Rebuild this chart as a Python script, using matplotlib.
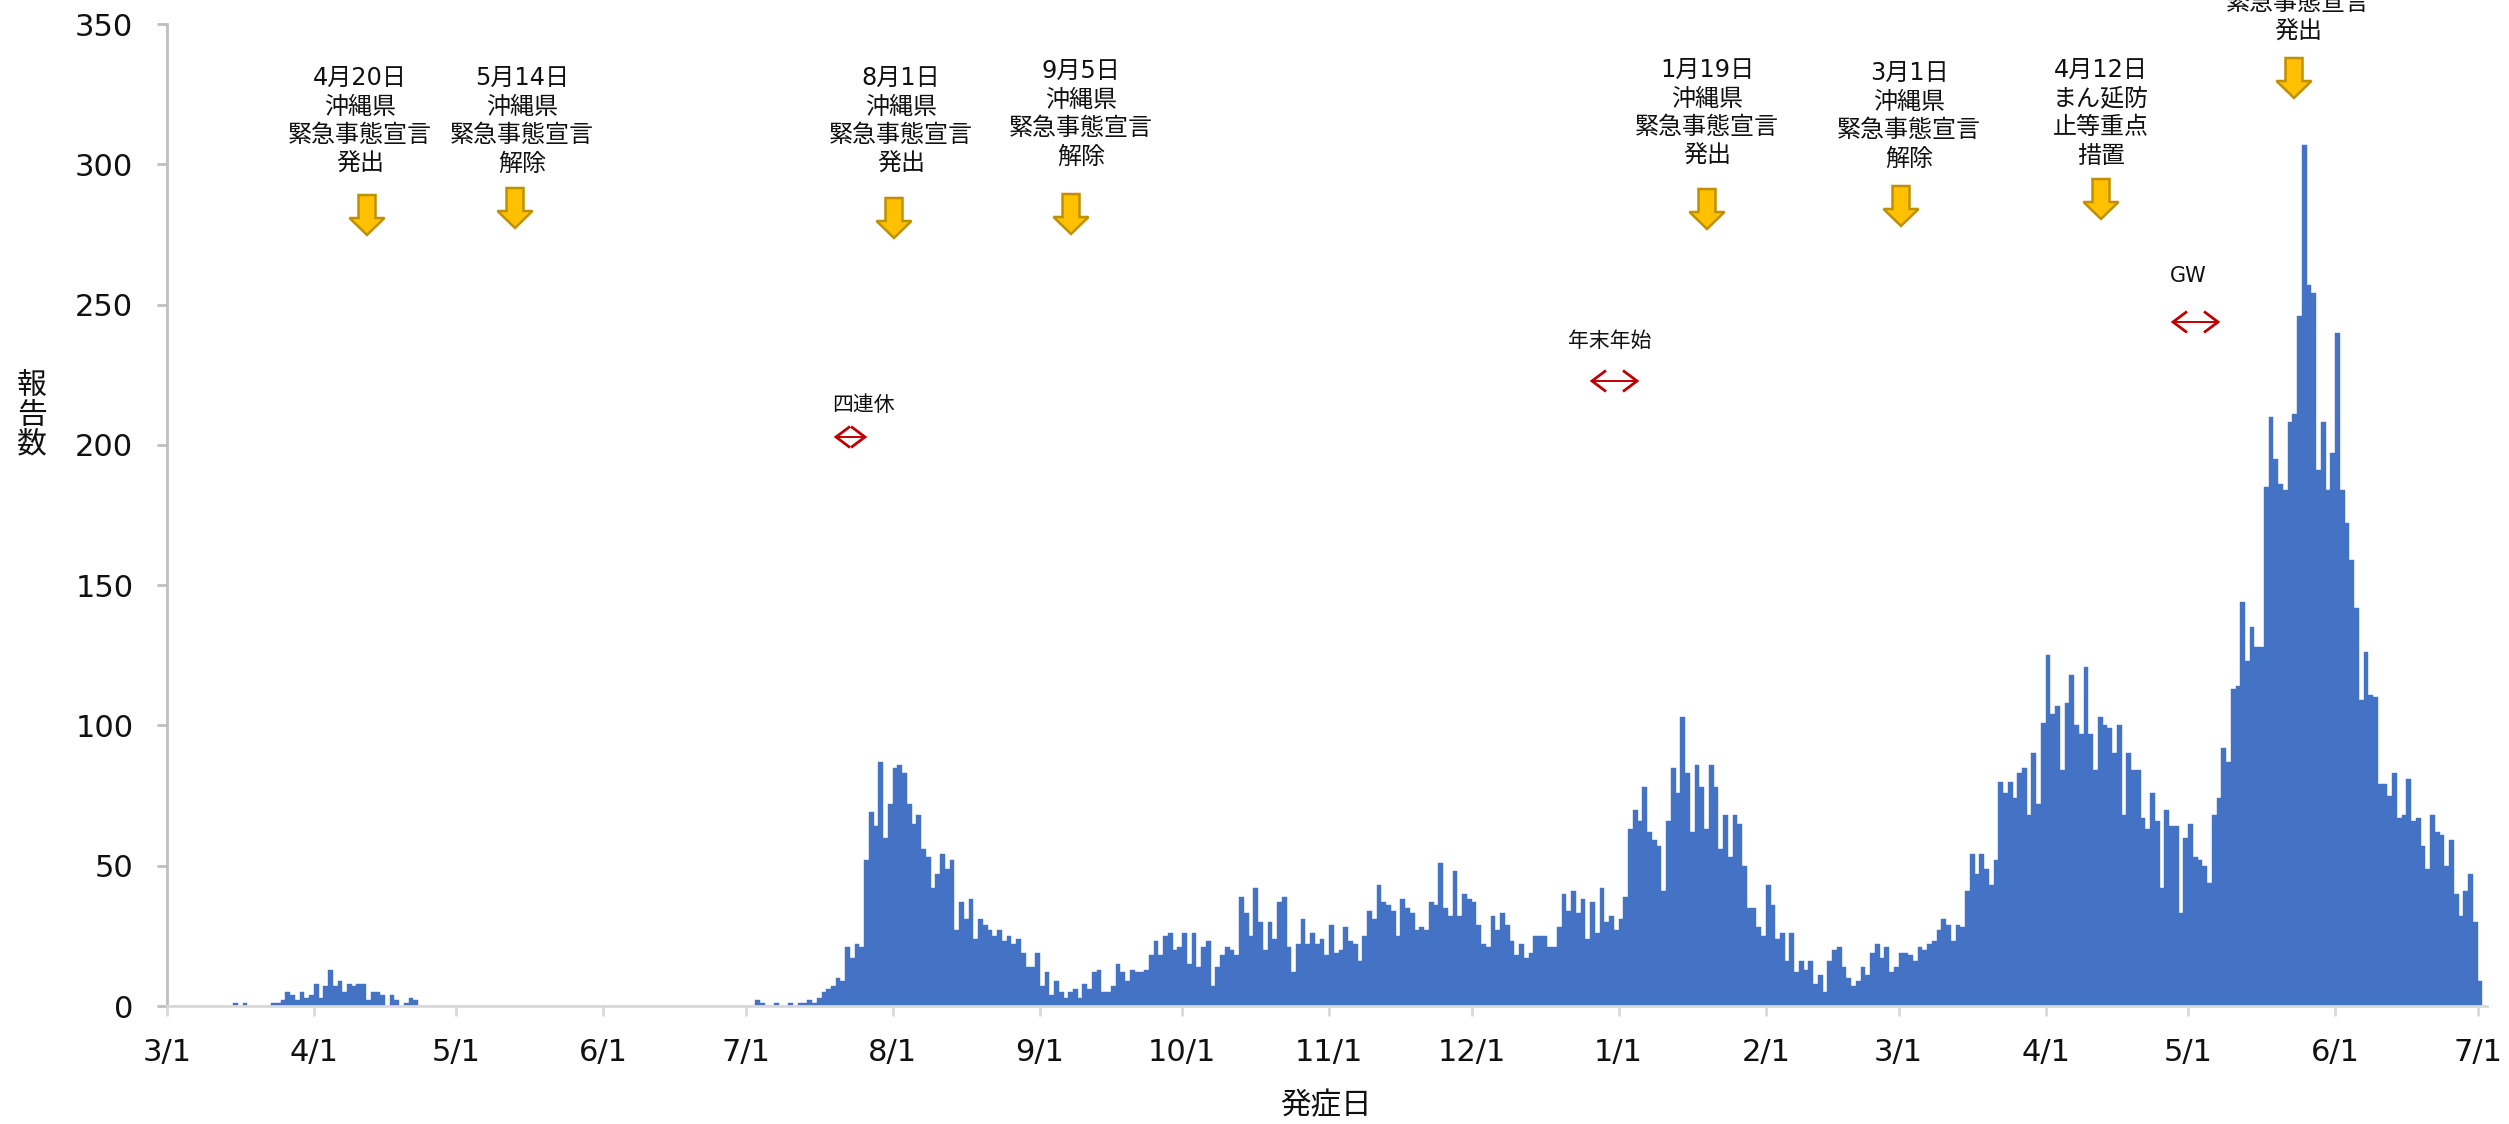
import pandas as pd
import matplotlib
matplotlib.use('Agg')
import matplotlib.pyplot as plt
import matplotlib.dates as mdates
from matplotlib.lines import Line2D
from matplotlib.patches import Polygon

plt.rcParams['font.family'] = ['DejaVu Sans', 'Noto Sans CJK JP']

W, H = 2509, 1124
BLUE = '#4472C4'
RED = '#C00000'
TEXT = '#111111'

# daily counts, one list per month
mar_20 = [0] * 14 + [1, 0, 1, 0, 0, 0, 0, 0, 1, 1, 2, 5, 4, 2, 5, 3, 4]
apr_20 = [8, 3, 7, 13, 7, 9, 5, 8, 7, 8, 8, 2, 5, 5, 4, 0, 4, 2, 0, 1, 3, 2] + [0] * 8
may_20 = [0] * 31
jun_20 = [0] * 30
jul_20 = [0, 0, 2, 1, 0, 0, 1, 0, 0, 1, 0, 1, 1, 2, 1, 3, 5, 6, 7, 10, 9, 21, 17, 22, 21, 52, 69, 64, 87, 60, 72]
aug_20 = [85, 86, 83, 72, 65, 68, 56, 53, 42, 47, 54, 49, 52, 27, 37, 31, 38, 24, 31, 29, 27, 25, 27, 23, 25, 22, 24, 19, 14, 14, 19]
sep_20 = [7, 12, 4, 9, 5, 3, 5, 6, 3, 8, 6, 12, 13, 5, 5, 7, 15, 12, 9, 13, 12, 12, 13, 18, 23, 18, 25, 26, 20, 21]
oct_20 = [26, 15, 26, 14, 21, 23, 7, 14, 18, 21, 20, 18, 39, 33, 25, 42, 30, 20, 30, 24, 37, 39, 21, 12, 22, 31, 22, 26, 22, 24, 18]
nov_20 = [29, 19, 20, 28, 23, 22, 16, 25, 34, 31, 43, 37, 36, 34, 25, 38, 35, 33, 27, 28, 27, 37, 36, 51, 35, 32, 48, 32, 40, 38]
dec_20 = [37, 29, 22, 21, 32, 27, 33, 29, 23, 18, 22, 17, 19, 25, 25, 25, 21, 21, 28, 40, 34, 41, 33, 38, 24, 37, 26, 42, 30, 32, 27]
jan_21 = [31, 39, 63, 70, 66, 78, 62, 59, 57, 41, 66, 85, 76, 103, 83, 62, 86, 78, 63, 86, 78, 56, 68, 53, 68, 65, 50, 35, 35, 28, 25]
feb_21 = [43, 36, 24, 26, 16, 26, 12, 16, 13, 16, 8, 11, 5, 16, 20, 21, 14, 10, 7, 9, 14, 11, 19, 22, 17, 21, 12, 14]
mar_21 = [19, 19, 18, 16, 21, 20, 22, 23, 27, 31, 29, 23, 29, 28, 41, 54, 47, 54, 49, 43, 52, 80, 76, 80, 74, 83, 85, 68, 90, 72, 101]
apr_21 = [125, 104, 107, 84, 108, 118, 100, 97, 121, 97, 84, 103, 100, 99, 90, 100, 68, 90, 84, 84, 67, 63, 76, 66, 42, 70, 64, 64, 33, 60]
may_21 = [65, 53, 52, 50, 44, 68, 74, 92, 87, 113, 114, 144, 123, 135, 128, 128, 185, 210, 195, 186, 184, 208, 211, 246, 307, 257, 254, 191, 208, 184, 197]
jun_21 = [240, 184, 172, 159, 142, 109, 126, 111, 110, 79, 79, 75, 83, 67, 68, 81, 66, 67, 57, 49, 68, 62, 61, 50, 59, 40, 32, 41, 47, 30]
jul_21 = [9]

counts = (mar_20 + apr_20 + may_20 + jun_20 + jul_20 + aug_20 + sep_20 + oct_20 + nov_20
          + dec_20 + jan_21 + feb_21 + mar_21 + apr_21 + may_21 + jun_21 + jul_21)
days = pd.date_range('2020-03-01', periods=len(counts), freq='D')

events = ['4月20日\n沖縄県\n緊急事態宣言\n発出', '5月14日\n沖縄県\n緊急事態宣言\n解除',
          '8月1日\n沖縄県\n緊急事態宣言\n発出', '9月5日\n沖縄県\n緊急事態宣言\n解除',
          '1月19日\n沖縄県\n緊急事態宣言\n発出', '3月1日\n沖縄県\n緊急事態宣言\n解除',
          '4月12日\nまん延防\n止等重点\n措置', '緊急事態宣言\n発出']
event_text_xy = [(360, 121), (522, 121), (901, 121), (1081, 114), (1707, 113), (1909, 116), (2101, 113), (2298, 17)]
event_arrow_xy = [(367, 195), (515, 188), (894, 198), (1071, 194), (1707, 189), (1901, 186), (2101, 179), (2294, 58)]

holidays = ['四連休', '年末年始', 'GW']
holiday_text_xy = [(863, 405), (1610, 341), (2188, 276)]
holiday_span = [(836, 865, 437), (1592, 1637, 381), (2173, 2218, 322)]


def fx(x):
    return x / W


def fy(y):
    return 1 - y / H


def fig_line(xs, ys, lw):
    fig.add_artist(Line2D([fx(a) for a in xs], [fy(b) for b in ys], transform=fig.transFigure,
                          color=RED, lw=lw, solid_joinstyle='miter', solid_capstyle='butt'))


fig = plt.figure(figsize=(W / 100, H / 100), dpi=100, facecolor='white')
# 3/1 tick at x=166.7, 0 at y=1006, 350 at y=24
ax = fig.add_axes([fx(166.7), fy(1006), (2487 - 166.7) / W, (1006 - 24) / H])

ax.bar(days, counts, width=1, align='edge', color=BLUE, edgecolor=BLUE, linewidth=0.3)

ax.set_ylim(0, 350)
ax.set_xlim(days[0], days[0] + pd.Timedelta(days=489))
ax.set_yticks(range(0, 351, 50))
ax.xaxis.set_major_locator(mdates.MonthLocator())
ax.xaxis.set_major_formatter(mdates.DateFormatter('%-m/%-d'))

for s in ['top', 'right']:
    ax.spines[s].set_visible(False)
ax.spines['left'].set_color('#BFBFBF')
ax.spines['bottom'].set_color('#D9D9D9')
ax.spines['left'].set_linewidth(2)
ax.spines['bottom'].set_linewidth(2)
ax.tick_params(axis='both', width=2, length=7.5, labelsize=22, labelcolor=TEXT)
ax.tick_params(axis='x', color='#D9D9D9', pad=15.5)
ax.tick_params(axis='y', color='#BFBFBF', pad=16.5)

# event labels and block arrows
for label, (x, y) in zip(events, event_text_xy):
    fig.text(fx(x), fy(y), label, ha='center', va='center', fontsize=17.3, color=TEXT, linespacing=1.24)

for (x, y) in event_arrow_xy:
    pts = [(x - 8.5, y), (x + 8.5, y), (x + 8.5, y + 23), (x + 17.5, y + 23),
           (x, y + 40), (x - 17.5, y + 23), (x - 8.5, y + 23)]
    fig.add_artist(Polygon([(fx(a), fy(b)) for a, b in pts], closed=True, transform=fig.transFigure,
                           facecolor='#FFC000', edgecolor='#BF9000', linewidth=1.8))

# holiday spans, double headed
for label, (x, y) in zip(holidays, holiday_text_xy):
    fig.text(fx(x), fy(y), label, ha='center', va='center', fontsize=15, color=TEXT)

for (x0, x1, y) in holiday_span:
    fig_line([x0, x1], [y, y], 1.4)
    fig_line([x0 + 14, x0, x0 + 14], [y - 10.5, y, y + 10.5], 2)
    fig_line([x1 - 14, x1, x1 - 14], [y - 10.5, y, y + 10.5], 2)

fig.text(fx(32), fy(415), '報\n告\n数', ha='center', va='center', fontsize=21.5, color=TEXT, linespacing=1.0)
fig.text(fx(1326), fy(1106), '発症日', ha='center', va='center', fontsize=22, color=TEXT)

plt.savefig('out.png', dpi=100)
